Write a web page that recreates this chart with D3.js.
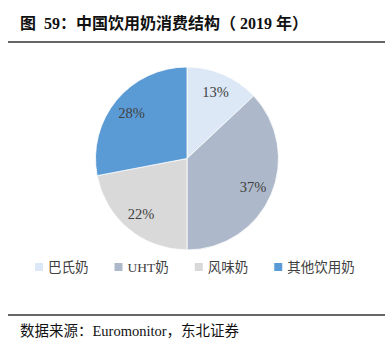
<!DOCTYPE html>
<html><head><meta charset="utf-8">
<script src="https://cdn.jsdelivr.net/npm/d3@7"></script>
<style>
html,body{margin:0;padding:0;background:#fff;}
svg{display:block;}
text{white-space:pre;}
</style></head>
<body><svg id="c" width="392" height="355"></svg>
<script>
const categories = ["巴氏奶", "UHT奶", "风味奶", "其他饮用奶"];
const values = [13, 37, 22, 28];
const labels = ["13%", "37%", "22%", "28%"];
const colors = ["#dce8f5", "#adb9ca", "#d9d9d9", "#5b9bd5"];
const titleText = "图  59：中国饮用奶消费结构（ 2019 年）";
const sourceText = "数据来源：Euromonitor，东北证券";

const svg = d3.select("#c");
const serif = "'Liberation Serif','Noto Sans CJK SC',serif";

svg.append("text").attr("x", 20).attr("y", 29)
  .attr("font-family", serif).attr("font-weight", "bold").attr("font-size", 16)
  .attr("fill", "#111").text(titleText);
svg.append("line").attr("x1", 8).attr("x2", 385).attr("y1", 42).attr("y2", 42)
  .attr("stroke", "#333").attr("stroke-width", 1.6);

const cx = 187, cy = 158.5, R = 91.5;
const pie = d3.pie().sort(null).value(d => d)(values);
const arc = d3.arc().innerRadius(0).outerRadius(R);
const labelArc = d3.arc().innerRadius(72).outerRadius(72);
const g = svg.append("g").attr("transform", `translate(${cx},${cy})`);
g.selectAll("path").data(pie).join("path")
  .attr("d", arc).attr("fill", (d, i) => colors[i])
  .attr("stroke", "#fff").attr("stroke-width", 0.8);
g.selectAll("text").data(pie).join("text")
  .attr("transform", d => `translate(${labelArc.centroid(d)})`)
  .attr("text-anchor", "middle").attr("dy", "0.35em")
  .attr("font-family", serif).attr("font-size", 14.5).attr("fill", "#404040")
  .text((d, i) => labels[i]);

const leg = svg.append("g").attr("transform", "translate(35,267)");
let x = 0;
categories.forEach((c, i) => {
  leg.append("rect").attr("x", x).attr("y", -4).attr("width", 8).attr("height", 8).attr("fill", colors[i]);
  const t = leg.append("text").attr("x", x + 13).attr("y", 0).attr("dy", "0.35em")
    .attr("font-family", serif).attr("font-size", 13.5).attr("fill", "#404040").text(c);
  x += 13 + t.node().getComputedTextLength() + 26;
});

svg.append("line").attr("x1", 8).attr("x2", 385).attr("y1", 315).attr("y2", 315)
  .attr("stroke", "#333").attr("stroke-width", 1.4);
svg.append("text").attr("x", 20).attr("y", 336)
  .attr("font-family", serif).attr("font-size", 14.5).attr("fill", "#111").text(sourceText);
</script></body></html>
